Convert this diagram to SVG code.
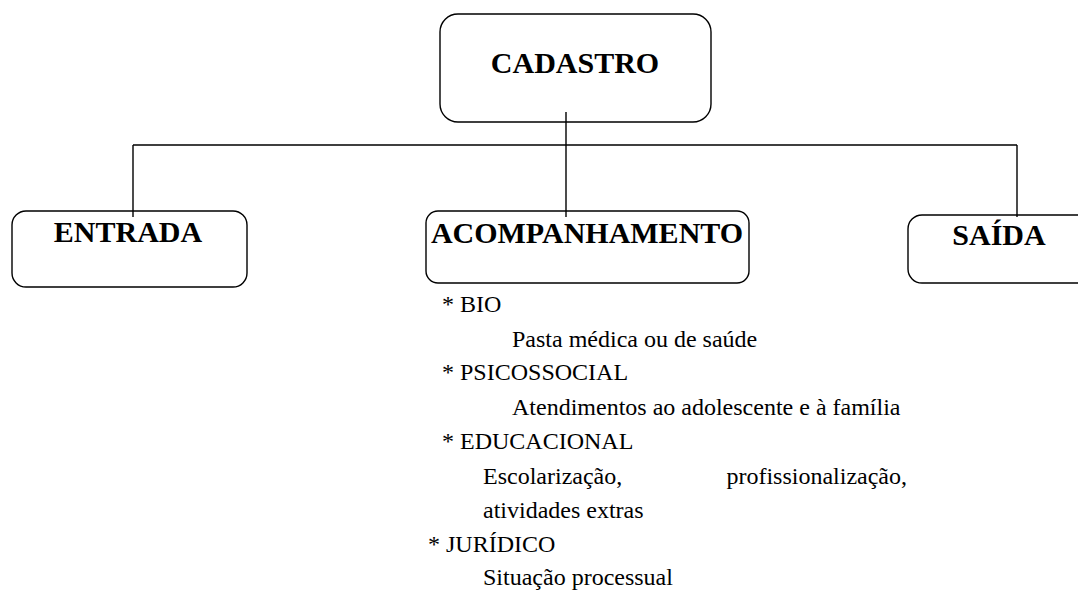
<svg xmlns="http://www.w3.org/2000/svg" width="1078" height="594" viewBox="0 0 1078 594">
<style>
.box{fill:#fff;stroke:#000;stroke-width:1.4}
.ln{fill:none;stroke:#000;stroke-width:1.4}
.h{font-family:"Liberation Serif","Times New Roman",serif;font-weight:bold;font-size:30px;fill:#000;text-anchor:middle}
.t{font-family:"Liberation Serif","Times New Roman",serif;font-size:24px;fill:#000}
</style>
<rect width="1078" height="594" fill="#fff"/>
<g id="cadastro">
<rect class="box" x="440" y="14" width="271" height="108" rx="18"/>
<text class="h" x="575" y="73">CADASTRO</text>
</g>
<g id="entrada">
<rect class="box" x="12" y="211" width="235" height="76" rx="14"/>
<text class="h" x="128" y="242">ENTRADA</text>
</g>
<g id="acompanhamento">
<rect class="box" x="426" y="211" width="323" height="72" rx="12"/>
<text class="h" x="587" y="243">ACOMPANHAMENTO</text>
</g>
<g id="saida">
<rect class="box" x="908" y="215" width="190" height="68" rx="14"/>
<text class="h" x="999" y="245">SAÍDA</text>
</g>
<g id="connectors">
<path class="ln" d="M566 112V217M133 145H1017M133 145V217M1017 145V217"/>
</g>
<g id="details">
<text class="t" x="442" y="312">* BIO</text>
<text class="t" x="512" y="347">Pasta médica ou de saúde</text>
<text class="t" x="442" y="380">* PSICOSSOCIAL</text>
<text class="t" x="512" y="415">Atendimentos ao adolescente e à família</text>
<text class="t" x="442" y="449">* EDUCACIONAL</text>
<text class="t" x="483" y="484">Escolarização,</text>
<text class="t" x="907" y="484" text-anchor="end">profissionalização,</text>
<text class="t" x="483" y="518">atividades extras</text>
<text class="t" x="428" y="552">* JURÍDICO</text>
<text class="t" x="483" y="585">Situação processual</text>
</g>
</svg>
